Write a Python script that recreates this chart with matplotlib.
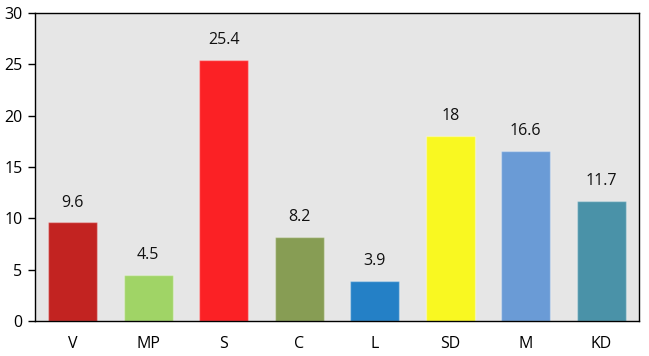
import matplotlib
matplotlib.use("Agg")
import matplotlib.pyplot as plt

# data
parties = ['V', 'MP', 'S', 'C', 'L', 'SD', 'M', 'KD']
values = [9.6, 4.5, 25.4, 8.2, 3.9, 18, 16.6, 11.7]
colors = ['#c22321', '#a0d466', '#fb2125', '#879d54', '#2480c6', '#f9f821', '#6a9bd6', '#4a92a8']
yticks = [0, 5, 10, 15, 20, 25, 30]

plt.rcParams['font.family'] = ['Open Sans', 'DejaVu Sans']

fig = plt.figure(figsize=(6.49, 3.56), dpi=100)
ax = fig.add_axes([35 / 649, 1 - 321 / 356, 604 / 649, 308 / 356])
ax.set_facecolor('#e6e6e6')

x = range(len(parties))
ax.bar(x, values, width=0.65, color=colors, edgecolor='#ffffff55', linewidth=1)

for xi, v in zip(x, values):
    label = f'{v:g}'
    ax.annotate(label, (xi, v), xytext=(0, 8.5), textcoords='offset points',
                ha='center', va='bottom', fontsize=11.5, color='#111111')

ax.set_xlim(-0.5, len(parties) - 0.5)
ax.set_ylim(0, 30)
ax.set_yticks(yticks)
ax.set_xticks(list(x))
ax.set_xticklabels(parties)
ax.tick_params(axis='x', length=0, pad=11, labelsize=11.5)
ax.tick_params(axis='y', length=5, labelsize=11.5, width=1, pad=4)
for s in ax.spines.values():
    s.set_linewidth(1)
    s.set_color('black')

fig.savefig('out.png', dpi=100)
